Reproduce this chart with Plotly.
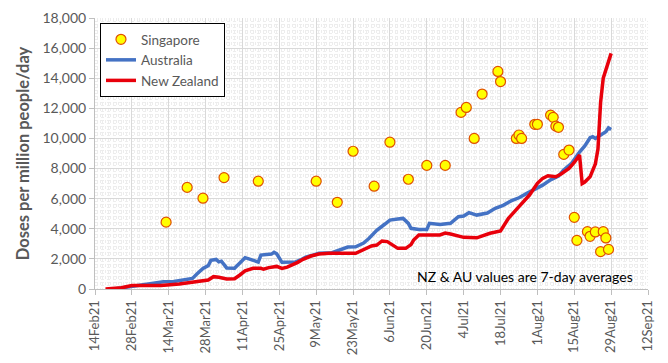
import plotly.graph_objects as go

# ---------------- data ----------------
sg_dates = ["2021-03-13", "2021-03-21", "2021-03-27", "2021-04-04", "2021-04-17",
            "2021-05-09", "2021-05-17", "2021-05-23", "2021-05-31", "2021-06-06",
            "2021-06-13", "2021-06-20", "2021-06-27", "2021-07-03", "2021-07-05",
            "2021-07-08", "2021-07-11", "2021-07-17", "2021-07-18", "2021-07-24",
            "2021-07-25", "2021-07-26", "2021-07-31", "2021-08-01", "2021-08-06",
            "2021-08-07", "2021-08-08", "2021-08-09", "2021-08-11", "2021-08-13",
            "2021-08-15", "2021-08-16", "2021-08-20", "2021-08-21", "2021-08-23",
            "2021-08-25", "2021-08-26", "2021-08-27", "2021-08-28"]
sg_values = [4440, 6750, 6030, 7400, 7160,
             7160, 5760, 9150, 6830, 9750,
             7290, 8210, 8210, 11730, 12060,
             10000, 12950, 14450, 13780, 10000,
             10230, 10000, 10940, 10940, 11550,
             11400, 10820, 10740, 8940, 9230,
             4760, 3230, 3810, 3500, 3790,
             2480, 3810, 3390, 2630]

au_dates = ["2021-02-22", "2021-02-28", "2021-03-06", "2021-03-09", "2021-03-12",
            "2021-03-16", "2021-03-20", "2021-03-23", "2021-03-25", "2021-03-27",
            "2021-03-29", "2021-03-30", "2021-04-01", "2021-04-02", "2021-04-03",
            "2021-04-05", "2021-04-08", "2021-04-10", "2021-04-12", "2021-04-14",
            "2021-04-16", "2021-04-17", "2021-04-18", "2021-04-20", "2021-04-22",
            "2021-04-23", "2021-04-24", "2021-04-26", "2021-04-28", "2021-05-01",
            "2021-05-03", "2021-05-05", "2021-05-08", "2021-05-10", "2021-05-15",
            "2021-05-18", "2021-05-21", "2021-05-24", "2021-05-27", "2021-05-29",
            "2021-06-01", "2021-06-04", "2021-06-06", "2021-06-09", "2021-06-11",
            "2021-06-13", "2021-06-14", "2021-06-17", "2021-06-20", "2021-06-21",
            "2021-06-25", "2021-06-29", "2021-07-02", "2021-07-04", "2021-07-06",
            "2021-07-09", "2021-07-13", "2021-07-16", "2021-07-19", "2021-07-22",
            "2021-07-25", "2021-07-28", "2021-07-31", "2021-08-03", "2021-08-06",
            "2021-08-09", "2021-08-11", "2021-08-14", "2021-08-17", "2021-08-19",
            "2021-08-21", "2021-08-22", "2021-08-23", "2021-08-25", "2021-08-27",
            "2021-08-28", "2021-08-29"]
au_values = [20, 180, 290, 400, 480,
             500, 600, 700, 1040, 1370,
             1550, 1900, 1960, 1800, 1850,
             1400, 1380, 1700, 2080, 1970,
             1840, 1790, 2250, 2300, 2320,
             2440, 2340, 1770, 1790, 1790,
             1930, 2110, 2260, 2370, 2410,
             2590, 2790, 2800, 3050, 3350,
             3900, 4300, 4580, 4650, 4690,
             4360, 4030, 3960, 3960, 4360,
             4280, 4360, 4800, 4850, 5070,
             4910, 5050, 5360, 5560, 5850,
             6060, 6350, 6600, 6900, 7250,
             7500, 7900, 8350, 9100, 9500,
             10050, 10110, 10000, 10200, 10450,
             10700, 10600]

nz_dates = ["2021-02-18", "2021-02-24", "2021-02-28", "2021-03-05", "2021-03-11",
            "2021-03-18", "2021-03-24", "2021-03-29", "2021-03-31", "2021-04-02",
            "2021-04-05", "2021-04-08", "2021-04-10", "2021-04-12", "2021-04-15",
            "2021-04-18", "2021-04-19", "2021-04-21", "2021-04-24", "2021-04-26",
            "2021-04-28", "2021-04-30", "2021-05-02", "2021-05-04", "2021-05-07",
            "2021-05-10", "2021-05-14", "2021-05-24", "2021-05-27", "2021-05-30",
            "2021-06-01", "2021-06-03", "2021-06-05", "2021-06-07", "2021-06-09",
            "2021-06-12", "2021-06-14", "2021-06-15", "2021-06-17", "2021-06-25",
            "2021-06-27", "2021-06-29", "2021-07-04", "2021-07-09", "2021-07-14",
            "2021-07-18", "2021-07-21", "2021-07-25", "2021-07-29", "2021-08-01",
            "2021-08-03", "2021-08-05", "2021-08-08", "2021-08-10", "2021-08-13",
            "2021-08-15", "2021-08-17", "2021-08-18", "2021-08-19", "2021-08-21",
            "2021-08-23", "2021-08-24", "2021-08-25", "2021-08-26", "2021-08-27",
            "2021-08-28", "2021-08-29"]
nz_values = [0, 80, 230, 250, 230,
             330, 470, 600, 820, 780,
             660, 680, 930, 1200, 1370,
             1370, 1310, 1420, 1500, 1370,
             1450, 1590, 1770, 1970, 2190,
             2320, 2370, 2370, 2600, 2860,
             2920, 3190, 3150, 2920, 2700,
             2700, 2950, 3250, 3590, 3590,
             3720, 3650, 3430, 3400, 3700,
             3850, 4690, 5470, 6240, 7020,
             7350, 7520, 7460, 7640, 8010,
             8400, 8900, 7000, 7100, 7450,
             8300, 9300, 12400, 14000, 14600,
             15050, 15650]

x_tick_start = "2021-02-14"
x_range = ["2021-02-14", "2021-09-12"]
y_range = [0, 18000]

FONT = "Lato"
GREY = "#595959"
DAY_MS = 86400000

fig = go.Figure()
fig.add_trace(go.Scatter(
    x=sg_dates, y=sg_values, mode="markers", name="Singapore",
    marker=dict(symbol="circle", size=10, color="#FFFF00",
                line=dict(color="#E05000", width=1.2)),
))
fig.add_trace(go.Scatter(
    x=au_dates, y=au_values, mode="lines", name="Australia",
    line=dict(color="#4472C4", width=3.5),
))
fig.add_trace(go.Scatter(
    x=nz_dates, y=nz_values, mode="lines", name="New Zealand",
    line=dict(color="#E8000B", width=3.5),
))

# page body has an 8px margin, so the figure is 8px smaller and margins shifted
fig.update_layout(
    width=660, height=355,
    margin=dict(l=87, r=20, t=10, b=74, autoexpand=False),
    paper_bgcolor="white", plot_bgcolor="white",
    font=dict(family=FONT, color=GREY, size=14),
    showlegend=True,
    legend=dict(x=0.009, y=0.9815, xanchor="left", yanchor="top",
                bgcolor="white", bordercolor="black", borderwidth=1,
                font=dict(family=FONT, size=13.5, color=GREY),
                tracegroupgap=0),
    annotations=[dict(
        text="NZ & AU values are 7-day averages", xref="paper", yref="paper",
        x=0.7767, y=0.0454, xanchor="center", yanchor="middle", showarrow=False,
        font=dict(family=FONT, size=14, color="black"),
    )],
)

fig.update_xaxes(
    type="date", range=x_range, tick0=x_tick_start, dtick=14 * DAY_MS,
    tickformat="%-d%b%y", tickangle=-90, tickfont=dict(size=13, color=GREY),
    showgrid=True, gridcolor="#D9D9D9", gridwidth=1,
    minor=dict(dtick=DAY_MS, showgrid=True, gridcolor="#EDEDED", griddash="dot", gridwidth=1),
    showline=True, linecolor="#BFBFBF", linewidth=1,
    ticks="outside", ticklen=5, tickcolor="#BFBFBF",
    zeroline=False, automargin=False,
)
fig.update_yaxes(
    range=y_range, dtick=2000, tickformat=",", tickfont=dict(size=14, color=GREY),
    showgrid=True, gridcolor="#D9D9D9", gridwidth=1,
    minor=dict(dtick=200, showgrid=True, gridcolor="#EDEDED", griddash="dot", gridwidth=1),
    showline=True, linecolor="#BFBFBF", linewidth=1,
    ticks="outside", ticklen=5, tickcolor="#BFBFBF",
    zeroline=False, automargin=False,
    title=dict(text="<b>Doses per million people/day</b>", standoff=8,
               font=dict(family=FONT, size=16.5, color=GREY)),
)

fig.write_html("out.html")
